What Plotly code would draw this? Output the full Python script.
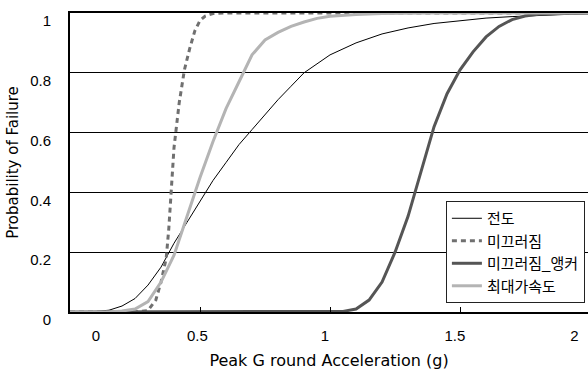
import plotly.graph_objects as go

# --- data ---
x_overturn = [0.0, 0.1, 0.15, 0.2, 0.25, 0.3, 0.35, 0.4, 0.45, 0.5, 0.55, 0.6, 0.65, 0.7, 0.75, 0.8, 0.85,
              0.9, 1.0, 1.1, 1.2, 1.3, 1.4, 1.5, 1.6, 1.7, 1.8, 1.9, 2.0]
p_overturn = [0.0, 0.002, 0.006, 0.02, 0.045, 0.09, 0.15, 0.23, 0.3, 0.37, 0.44, 0.5, 0.56, 0.61, 0.66, 0.71,
              0.755, 0.8, 0.86, 0.9, 0.93, 0.95, 0.965, 0.975, 0.983, 0.988, 0.992, 0.995, 0.997]

x_slide = [0.0, 0.25, 0.3, 0.33, 0.35, 0.37, 0.38, 0.39, 0.4, 0.42, 0.44, 0.46, 0.48, 0.5, 0.52, 0.55, 0.6, 2.0]
p_slide = [0.0, 0.0, 0.005, 0.04, 0.1, 0.18, 0.28, 0.42, 0.55, 0.7, 0.81, 0.88, 0.94, 0.975, 0.99, 0.998, 1.0, 1.0]

x_anchor = [0.0, 1.0, 1.05, 1.1, 1.15, 1.2, 1.25, 1.3, 1.35, 1.4, 1.45, 1.5, 1.55, 1.6, 1.65, 1.7, 1.75, 1.8,
            1.9, 2.0]
p_anchor = [0.0, 0.0, 0.002, 0.01, 0.04, 0.1, 0.2, 0.32, 0.47, 0.62, 0.73, 0.81, 0.87, 0.92, 0.955, 0.978,
            0.99, 0.996, 0.999, 1.0]

x_pga = [0.0, 0.15, 0.2, 0.25, 0.3, 0.35, 0.4, 0.45, 0.5, 0.55, 0.6, 0.65, 0.7, 0.75, 0.8, 0.85, 0.9, 0.95,
         1.0, 1.1, 1.2, 1.4, 2.0]
p_pga = [0.0, 0.0, 0.003, 0.01, 0.035, 0.1, 0.19, 0.32, 0.45, 0.57, 0.68, 0.77, 0.86, 0.91, 0.935, 0.955,
         0.97, 0.982, 0.989, 0.995, 0.998, 1.0, 1.0]

series_names = ["전도", "미끄러짐", "미끄러짐_앵커", "최대가속도"]
x_tick_labels = ["0", "0.5", "1", "1.5", "2"]
x_tick_label_pos = [0.1, 0.49, 0.98, 1.48, 1.94]
x_tick_marks = [0.5, 1.0, 1.5]
y_ticks = [0, 0.2, 0.4, 0.6, 0.8, 1]
y_tick_labels = ["0", "0.2", "0.4", "0.6", "0.8", "1"]

FONT = "Arial, Liberation Sans, Noto Sans CJK KR, sans-serif"
WIDE = "DejaVu Sans, Noto Sans CJK KR, sans-serif"

fig = go.Figure()
fig.add_trace(go.Scatter(x=x_overturn, y=p_overturn, mode="lines", name=series_names[0],
                         line=dict(color="#000000", width=1)))
fig.add_trace(go.Scatter(x=x_slide, y=p_slide, mode="lines", name=series_names[1],
                         line=dict(color="#707070", width=3, dash="5px,4px")))
fig.add_trace(go.Scatter(x=x_anchor, y=p_anchor, mode="lines", name=series_names[2],
                         line=dict(color="#555555", width=3)))
fig.add_trace(go.Scatter(x=x_pga, y=p_pga, mode="lines", name=series_names[3],
                         line=dict(color="#b4b4b4", width=3)))
# invisible trace to carry the tick-mark axis
fig.add_trace(go.Scatter(x=[0, 2], y=[0, 0], xaxis="x2", mode="lines", showlegend=False,
                         line=dict(width=0), hoverinfo="skip"))

XR = [0, 1.992]
fig.update_layout(
    width=588, height=371,
    margin=dict(l=70, r=0, t=13, b=59),
    paper_bgcolor="white", plot_bgcolor="white",
    font=dict(family=FONT, color="#000000", size=15),
    showlegend=True,
    legend=dict(x=0.994, y=0.03, xanchor="right", yanchor="bottom",
                bgcolor="white", bordercolor="#222222", borderwidth=1,
                font=dict(size=15, family=FONT), tracegroupgap=0, itemwidth=30),
    xaxis=dict(range=XR, tickmode="array", tickvals=x_tick_label_pos, ticktext=x_tick_labels,
               ticks="", showgrid=False, zeroline=False, showline=True, linecolor="#000000",
               linewidth=2, mirror=True, ticklabelstandoff=9,
               title=dict(text="Peak G round Acceleration (g)", font=dict(size=16, family=WIDE),
                          standoff=12)),
    xaxis2=dict(range=XR, overlaying="x", anchor="y", side="bottom", tickmode="array",
                tickvals=x_tick_marks, ticks="inside", ticklen=5, tickcolor="#000000", tickwidth=1,
                showticklabels=False, showgrid=False, zeroline=False, showline=False),
    yaxis=dict(range=[0, 1], tickmode="array", tickvals=y_ticks, ticktext=y_tick_labels,
               ticks="", showgrid=True, gridcolor="#000000", gridwidth=1, zeroline=False,
               showline=True, linecolor="#000000", linewidth=2, ticklabelshift=8,
               ticklabelstandoff=14,
               title=dict(text="Probability of Failure", font=dict(size=15, family=WIDE), standoff=8)),
)

fig.write_html("out.html")
